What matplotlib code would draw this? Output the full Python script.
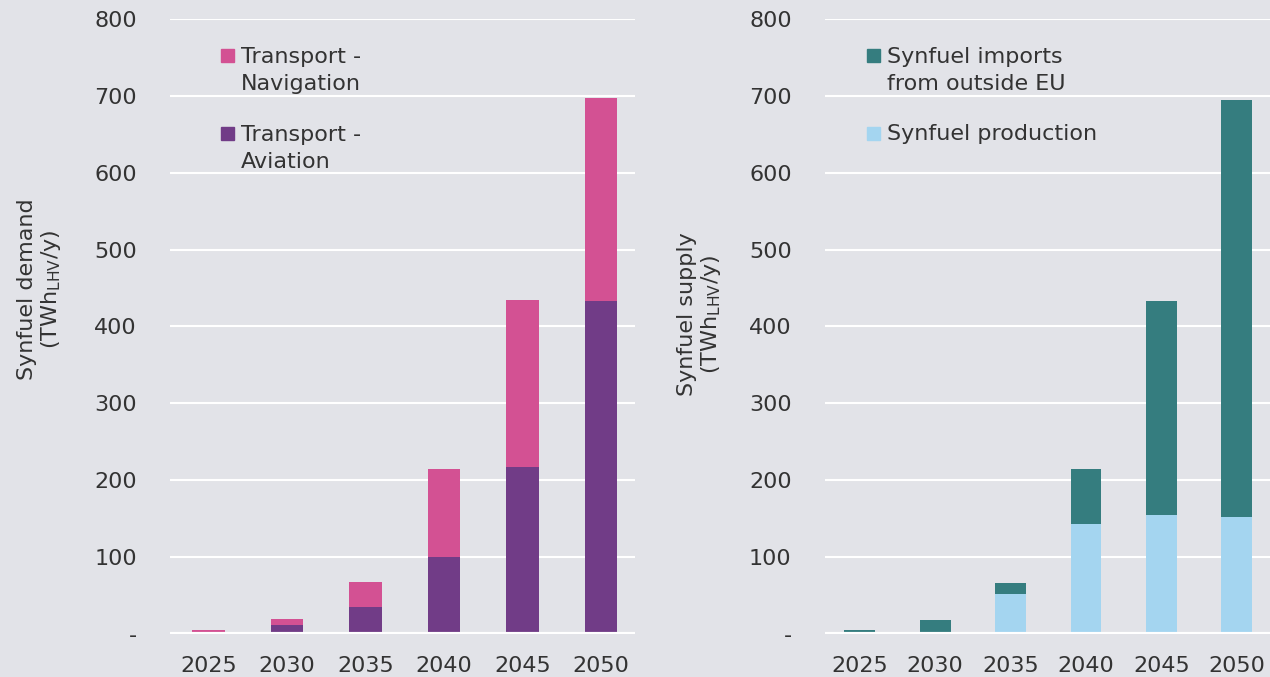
import numpy as np
import matplotlib.pyplot as plt
from matplotlib.patches import Rectangle

years = ['2025', '2030', '2035', '2040', '2045', '2050']
aviation = [2, 12, 35, 100, 217, 433]
navigation = [3, 7, 33, 114, 217, 264]
production = [0, 0, 52, 143, 155, 152]
imports = [5, 18, 14, 72, 278, 543]

yticks = [0, 100, 200, 300, 400, 500, 600, 700, 800]
yticklabels = ['-', '100', '200', '300', '400', '500', '600', '700', '800']

bg = '#e2e3e8'
c_nav = '#d35193'
c_avi = '#713c87'
c_imp = '#357d7f'
c_prod = '#a4d5f0'
txt = '#333333'

plt.rcParams['font.family'] = 'DejaVu Sans'
fig = plt.figure(figsize=(12.7, 6.77), dpi=100, facecolor=bg)
ax1 = fig.add_axes([0.1339, 0.0635, 0.366, 0.9085])
ax2 = fig.add_axes([0.6496, 0.0635, 0.3504, 0.9085])

x = np.arange(len(years))
w = 0.41
fs = 16

def style(ax, ylabel, ly):
    ax.set_facecolor(bg)
    for s in ax.spines.values():
        s.set_visible(False)
    ax.set_ylim(0, 800)
    ax.set_yticks(yticks)
    ax.set_yticklabels(yticklabels)
    ax.set_xticks(x)
    ax.set_xticklabels(years)
    ax.tick_params(length=0, labelsize=fs, colors=txt)
    ax.tick_params(axis='y', pad=24)
    ax.tick_params(axis='x', pad=16)
    for t in yticks[1:]:
        ax.axhline(t, color='white', lw=1.5, zorder=0)
    ax.axhline(0, color='white', lw=3, zorder=3)
    ax.set_ylabel(ylabel, fontsize=fs, color=txt, linespacing=1.1)
    ax.yaxis.set_label_coords(-0.23, ly)

def legend(ax, colors, labels, xs, xt, sq):
    # manual legend: square beside first line of each label
    line = 28 / 615
    for (c, lab, yb) in zip(colors, labels, [0.930, 0.803]):
        ax.add_patch(Rectangle((xs, yb), sq, 13 / 615, transform=ax.transAxes,
                               color=c, clip_on=False))
        n = lab.count('\n')
        ax.text(xt, yb - n * line, lab, transform=ax.transAxes, fontsize=fs, color=txt,
                va='baseline', ha='left', linespacing=1.45)

# demand
ax1.bar(x, aviation, w, color=c_avi, zorder=2)
ax1.bar(x, navigation, w, bottom=aviation, color=c_nav, zorder=2)
style(ax1, 'Synfuel demand\n(TWh$_{\\mathrm{LHV}}$/y)', 0.56)
ax1.set_xlim(-0.49, 5.43)
legend(ax1, [c_nav, c_avi], ['Transport -\nNavigation', 'Transport -\nAviation'],
       0.110, 0.153, 13 / 465)

# supply
ax2.bar(x, production, w, color=c_prod, zorder=2)
ax2.bar(x, imports, w, bottom=production, color=c_imp, zorder=2)
style(ax2, 'Synfuel supply\n(TWh$_{\\mathrm{LHV}}$/y)', 0.52)
ax2.set_xlim(-0.46, 5.44)
legend(ax2, [c_imp, c_prod], ['Synfuel imports\nfrom outside EU', 'Synfuel production'],
       0.094, 0.139, 13 / 445)

fig.savefig('out.png', dpi=100, facecolor=bg)
